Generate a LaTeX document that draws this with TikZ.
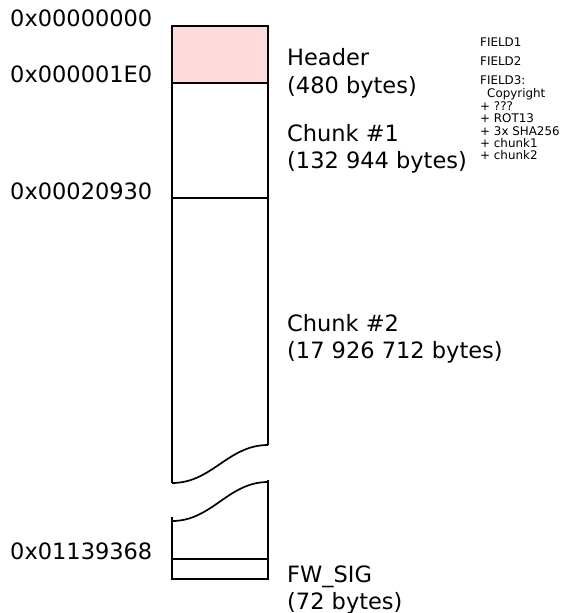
\documentclass[tikz,border=0pt]{standalone}
\usepackage{fontspec}
\setmainfont{DejaVu Sans}
\definecolor{hdrpink}{RGB}{255,218,218}
\begin{document}
\begin{tikzpicture}[x=1pt,y=-1pt,
  big/.style={font=\fontsize{22.5}{27}\selectfont,inner sep=0pt,anchor=base west},
  small/.style={font=\fontsize{11.9}{13}\selectfont,inner sep=0pt,anchor=base west},
  wall/.style={line width=1.7pt,line join=miter}]
\useasboundingbox (0,0) rectangle (561,613);
% header block
\fill[hdrpink] (172,26) rectangle (268,83);
\draw[wall] (172,83) -- (172,26) -- (268,26) -- (268,83);
\draw[wall] (172,83) -- (268,83);
\draw[wall] (172,198) -- (268,198);
% upper part of chunk #2
\draw[wall] (172,83) -- (172,483);
\draw[wall] (268,83) -- (268,445);
\draw[wall] (268,445) .. controls (228,445) and (212,483) .. (172,483);
% lower part
\draw[wall] (172,521) .. controls (212,521) and (228,482) .. (268,482);
\draw[wall] (172,517) -- (172,579) -- (268,579) -- (268,480);
\draw[wall] (172,559) -- (268,559);
% addresses
\node[big] (a0) at (10,27) {0x00000000};
\node[big] (a1) at (10,82) {0x000001E0};
\node[big] (a2) at (10,199) {0x00020930};
\node[big] (a3) at (10,559) {0x01139368};
% section labels
\node[big] (h1) at (287,65) {Header};
\node[big] (h2) at (287,93) {(480 bytes)};
\node[big] (c1a) at (287,141) {Chunk \#1};
\node[big] (c1b) at (287,168) {(132 944 bytes)};
\node[big] (c2a) at (287,331) {Chunk \#2};
\node[big] (c2b) at (287,358) {(17 926 712 bytes)};
\node[big] (fa) at (287,582) {FW\_SIG};
\node[big] (fb) at (287,609) {(72 bytes)};
% header fields
\node[small] (f1) at (480,46) {FIELD1};
\node[small] (f2) at (480,65) {FIELD2};
\node[small] (f3) at (480,84) {FIELD3:};
\node[small] (f4) at (487,97) {Copyright};
\node[small] (f5) at (480,110) {+ ???};
\node[small] (f6) at (480,122.5) {+ ROT13};
\node[small] (f7) at (480,135) {+ 3x SHA256};
\node[small] (f8) at (480,147) {+ chunk1};
\node[small] (f9) at (480,159) {+ chunk2};
\end{tikzpicture}
\end{document}
